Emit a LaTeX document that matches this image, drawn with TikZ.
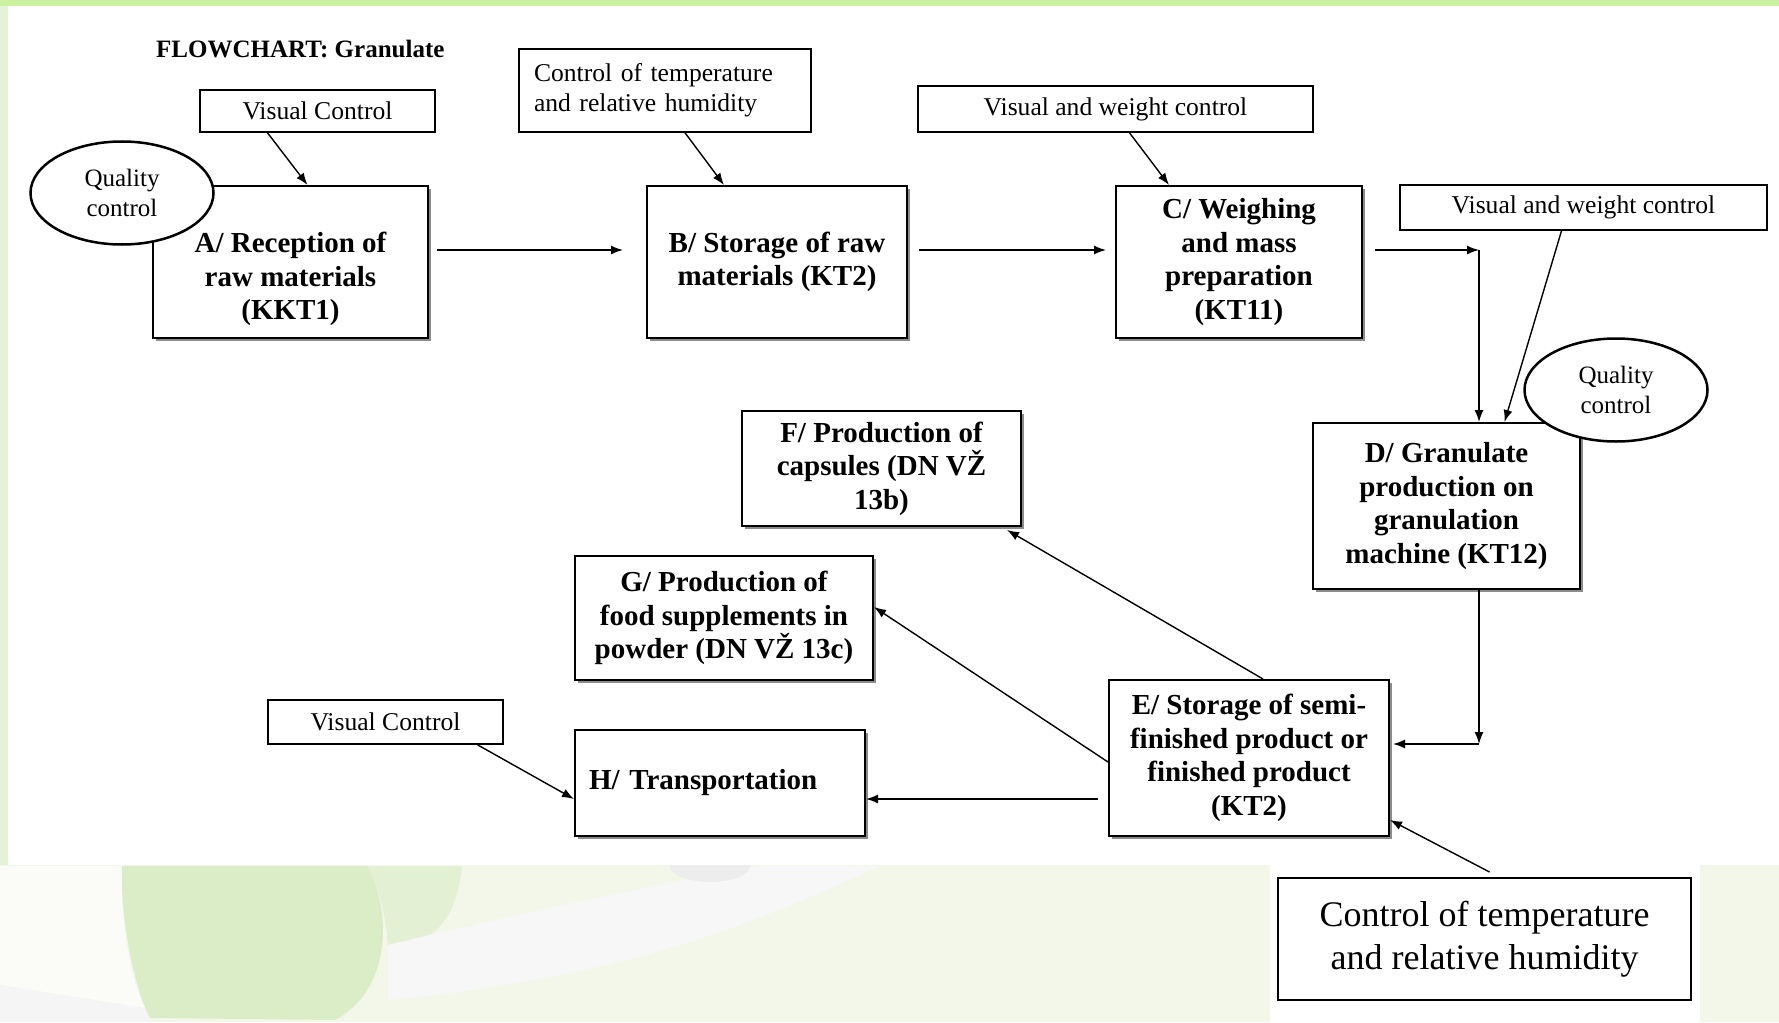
\documentclass[tikz,border=0pt]{standalone}
\usepackage{fontspec}
\setmainfont{Liberation Serif}
\usetikzlibrary{shapes.geometric,shadows,arrows.meta}
\pgfdeclarelayer{back}
\pgfdeclarelayer{bg}
\pgfsetlayers{back,bg,main}
\definecolor{topband}{RGB}{204,241,160}
\definecolor{leftband}{RGB}{228,243,214}
\definecolor{paleleaf}{RGB}{242,247,234}
\definecolor{capsule}{RGB}{219,237,198}
\definecolor{capsulelt}{RGB}{228,240,212}
\tikzstyle{proc}=[draw=black, line width=2pt, fill=white, align=center, inner sep=4pt, font=\fontsize{29}{33.5}\selectfont\bfseries, drop shadow={shadow xshift=3pt, shadow yshift=-3pt, fill=black, opacity=0.45}]
\tikzstyle{ctrl}=[draw=black, line width=1.6pt, fill=white, align=center, inner sep=4pt, font=\fontsize{25.6}{30}\selectfont]
\tikzstyle{qc}=[ellipse, draw=black, line width=2.5pt, fill=white, minimum width=183pt, minimum height=103pt, align=center, inner sep=0pt, font=\fontsize{25}{30}\selectfont]
\tikzstyle{wire}=[-, line width=1.4pt]

\begin{document}
\begin{tikzpicture}[x=1pt, y=-1pt, >={Latex[length=12pt, width=9pt]}]
    \useasboundingbox (0,0) rectangle (1779,1022);

    \begin{pgfonlayer}{back}
        \fill [paleleaf] (0,0) rectangle (1779,1022);
        \fill [white, opacity=0.7] (0,866) -- (122,866) .. controls (120,920) and (130,980) .. (145,1008) -- (0,985) -- cycle;
        \fill [gray!8] (0,985) -- (145,1008) -- (150,1022) -- (0,1022) -- cycle;
        \fill [capsulelt] (367,866) -- (462,866) .. controls (458,900) and (450,920) .. (430,935)
            -- (388,945) .. controls (385,910) and (378,885) .. (367,866) -- cycle;
        \fill [gray!6] (430,935) .. controls (560,905) and (680,880) .. (760,866) -- (880,866)
            .. controls (760,920) and (640,975) .. (388,1000) -- (388,945) -- cycle;
        \fill [capsule] (122,866) -- (367,866) .. controls (392,910) and (392,990) .. (335,1020)
            -- (150,1018) .. controls (135,990) and (120,920) .. (122,866) -- cycle;
        \fill [gray!14] (710,866) ellipse [x radius=40, y radius=16];
        \fill [white] (8,6) rectangle (1779,865);
        \fill [white] (1270,865) rectangle (1700,1022);
        \fill [topband] (0,0) rectangle (1779,6);
        \fill [leftband] (0,6) rectangle (8,865);
    \end{pgfonlayer}

    \node [anchor=west, inner sep=0pt, font=\fontsize{25}{30}\selectfont\bfseries] (ttl) at (156,49) {FLOWCHART: Granulate};

    \node [proc, minimum width=275pt, minimum height=152pt] (a) at (290.5,262) {\rule{0pt}{55pt}A/ Reception of\\raw materials\\(KKT1)};
    \node [proc, minimum width=260pt, minimum height=152pt] (b) at (777,262) {B/ Storage of raw\\materials (KT2)};
    \node [proc, minimum width=246pt, minimum height=152pt] (c) at (1239,262) {C/ Weighing\\and mass\\preparation\\(KT11)};
    \node [proc, minimum width=267pt, minimum height=166pt] (d) at (1446.5,506) {D/ Granulate\\production on\\granulation\\machine (KT12)};
    \node [proc, minimum width=279pt, minimum height=115pt] (f) at (881.5,468.5) {F/ Production of\\capsules (DN VŽ\\13b)};
    \node [proc, minimum width=298pt, minimum height=124pt] (g) at (724,618) {G/ Production of\\food supplements in\\powder (DN VŽ 13c)};
    \node [proc, minimum width=280pt, minimum height=156pt] (e) at (1249,758) {E/ Storage of semi-\\finished product or\\finished product\\(KT2)};
    \node [proc, minimum width=290pt, minimum height=106pt, text width=262pt, align=left] (h) at (720,783) {H/ Transportation};

    \node [ctrl, minimum width=235pt, minimum height=42pt] (vc1) at (317.5,111) {Visual Control};
    \node [ctrl, minimum width=292pt, minimum height=83pt, text width=262pt, align=left] (th1) at (665,90.5) {Control of temperature\\and relative humidity};
    \node [ctrl, minimum width=395pt, minimum height=46pt] (vw1) at (1115.5,109) {Visual and weight control};
    \node [ctrl, minimum width=367pt, minimum height=45pt] (vw2) at (1583.5,207.5) {Visual and weight control};
    \node [ctrl, minimum width=235pt, minimum height=44pt] (vc2) at (385.5,722) {Visual Control};
    \node [ctrl, line width=2pt, minimum width=413pt, minimum height=122pt, font=\fontsize{36}{43}\selectfont] (th2) at (1484.5,939) {Control of temperature\\and relative humidity};

    \node [qc] (qc1) at (122,193) {Quality\\control};
    \node [qc] (qc2) at (1616,390) {Quality\\control};

    \coordinate (cd) at (1479,250);
    \coordinate (de) at (1479,744);

    \begin{pgfonlayer}{bg}
        \draw [wire, ->] ([xshift=-50pt]vc1.south) -- ([xshift=17pt]a.north);
        \draw [wire, ->] ([xshift=20pt]th1.south) -- ([xshift=-53pt]b.north);
        \draw [wire, ->] ([xshift=14pt]vw1.south) -- ([xshift=-70pt]c.north);
        \draw [wire, ->, shorten <=8pt, shorten >=23pt] ([yshift=12pt]a.east) -- ([yshift=12pt]b.west);
        \draw [wire, ->, shorten <=11pt, shorten >=9pt] ([yshift=12pt]b.east) -- ([yshift=12pt]c.west);
        \draw [wire, ->, shorten <=12pt] ([yshift=12pt]c.east) -- (cd);
        \draw [wire, ->] (cd) -- (cd |- d.north);
        \draw [wire, ->] ([xshift=-22pt]vw2.south) -- ([xshift=58pt]d.north);
        \draw [wire, ->] (d.south -| de) -- (de);
        \draw [wire, ->, shorten >=3pt] (de) -- (de -| e.east);
        \draw [wire, ->] ([xshift=14pt]e.north) -- ([xshift=-15pt, yshift=-3pt]f.south east);
        \draw [wire, ->] ([yshift=-4pt]e.west) -- ([yshift=11pt]g.east);
        \draw [wire, ->, shorten <=10pt] ([yshift=-41pt]e.west) -- ([yshift=-41pt]e.west -| h.east);
        \draw [wire, ->] ([xshift=92pt]vc2.south) -- ([yshift=-16pt]h.west);
        \draw [wire, ->] ([xshift=5pt, yshift=5pt]th2.north) -- ([yshift=-62pt]e.east);
    \end{pgfonlayer}
\end{tikzpicture}
\end{document}
